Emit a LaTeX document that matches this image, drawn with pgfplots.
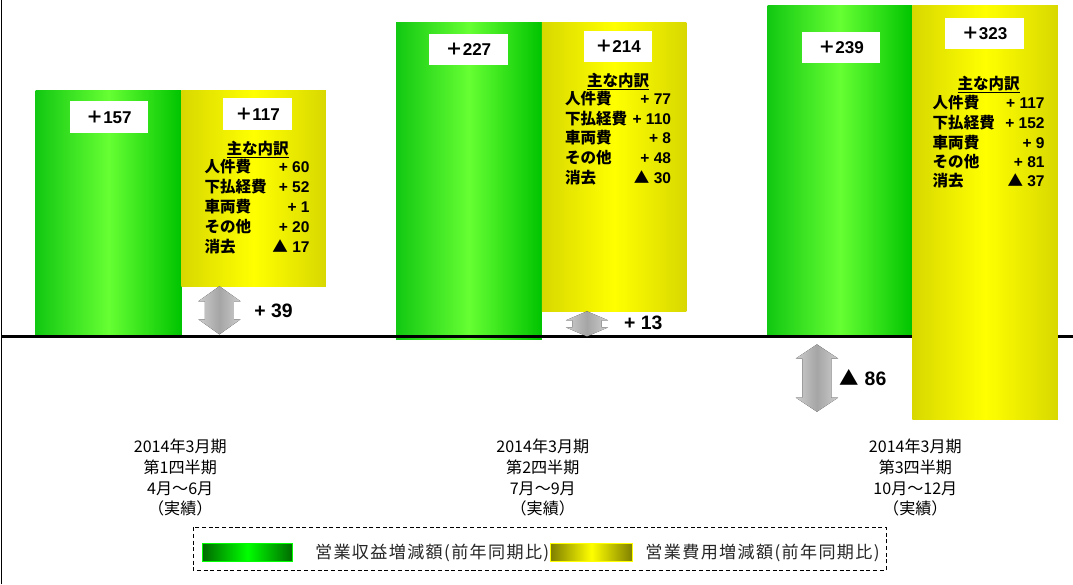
\documentclass[border=0pt]{standalone}
\usepackage{fontspec}
\usepackage{pgfplots}
\pgfplotsset{compat=1.18}
\setmainfont{Liberation Sans}
\newfontfamily\jp{Noto Sans CJK JP}
\newfontfamily\jpleg[LetterSpace=8]{Noto Sans CJK JP}

\definecolor{gL}{RGB}{18,200,18}
\definecolor{gM}{RGB}{102,255,51}
\definecolor{gR}{RGB}{0,196,0}
\definecolor{yE}{RGB}{216,216,0}
\definecolor{yM}{RGB}{255,255,0}
\definecolor{lgD}{RGB}{0,105,0}
\definecolor{lgM}{RGB}{0,255,0}
\definecolor{lyD}{RGB}{128,128,0}
\definecolor{arE}{RGB}{205,205,205}
\definecolor{arM}{RGB}{165,165,165}

\newcommand\brfont{\fontsize{11.6pt}{14pt}\selectfont\bfseries}
\newcommand\catfont{\fontsize{12pt}{14pt}\selectfont}
\newcommand\legfont{\fontsize{12.75pt}{14pt}\selectfont}
\newcommand\arfont{\fontsize{14.5pt}{16pt}\selectfont\bfseries}

% breakdown row: xleft xright ycenter label value
\newcommand\brow[5]{%
  \node[anchor=base west, inner sep=0pt, font=\brfont] at (#1,{#3+5.7}) {\jp #4};
  \node[anchor=base east, inner sep=0pt, font=\brfont] at (#2,{#3+5.7}) {#5};}
% double arrow: cx ytop ybottom headheight
\newcommand\darrow[4]{%
  \fill[left color=arE, right color=arE, middle color=arM]
    ({#1-14.5},{#2+#4}) -- ({#1-21},{#2+#4}) -- (#1,#2) -- ({#1+21},{#2+#4}) -- ({#1+14.5},{#2+#4})
    -- ({#1+14.5},{#3-#4}) -- ({#1+21},{#3-#4}) -- (#1,#3) -- ({#1-21},{#3-#4}) -- ({#1-14.5},{#3-#4}) -- cycle;}
% value box: cx cy width text
\newcommand\valbox[4]{%
  \node[fill=white, minimum width={#3*0.75pt}, minimum height=23.25pt, inner sep=0pt,
        font=\fontsize{12.75pt}{14pt}\selectfont\bfseries] at (#1,#2) {{\jp ＋}#4};}
% category label: cx lines
\newcommand\catlab[5]{%
  \node[anchor=base, inner sep=0pt, font=\catfont] at (#1,451) {\jp #2};
  \node[anchor=base, inner sep=0pt, font=\catfont] at (#1,471.5) {\jp #3};
  \node[anchor=base, inner sep=0pt, font=\catfont] at (#1,492) {\jp #4};
  \node[anchor=base, inner sep=0pt, font=\catfont] at (#1,512.5) {\jp #5};}

\begin{document}
\begin{tikzpicture}
\begin{axis}[scale only axis, width=804.75pt, height=436.5pt,
  xmin=0, xmax=1073, ymin=-179.7, ymax=244.5, hide axis]
% revenue increase (green bars), chart units
\addplot[draw=none, left color=gL, right color=gR, middle color=gM]
  coordinates {(40,0) (40,179) (185,179) (185,0)} -- cycle;
\addplot[draw=none, left color=gL, right color=gR, middle color=gM]
  coordinates {(399,-1.8) (399,228.5) (544,228.5) (544,-1.8)} -- cycle;
\addplot[draw=none, left color=gL, right color=gR, middle color=gM]
  coordinates {(769,0) (769,240.2) (913,240.2) (913,0)} -- cycle;
% baseline and left line
\draw[line width=2.25pt] (axis cs:6,0) -- (axis cs:1073,0);
\draw[line width=1.3pt] (axis cs:6,-179.7) -- (axis cs:6,244.5);
% expense increase (yellow floating bars)
\addplot[draw=none, left color=yE, right color=yE, middle color=yM]
  coordinates {(185,36.8) (185,179) (329,179) (329,36.8)} -- cycle;
\addplot[draw=none, left color=yE, right color=yE, middle color=yM]
  coordinates {(544,18.6) (544,228.5) (688,228.5) (688,18.6)} -- cycle;
\addplot[draw=none, left color=yE, right color=yE, middle color=yM]
  coordinates {(913,-60.1) (913,240.2) (1058,240.2) (1058,-60.1)} -- cycle;
\end{axis}

\begin{scope}[x=0.75pt, y=-0.75pt, shift={(0pt,436.5pt)}]
% value boxes
\valbox{113}{116.5}{78}{157}
\valbox{261}{113.5}{68}{117}
\valbox{471}{49.5}{78}{227}
\valbox{620}{46.5}{68}{214}
\valbox{842}{47.5}{78}{239}
\valbox{985}{33.5}{78}{323}
% breakdowns
\node[anchor=base, inner sep=0pt, font=\brfont] at (261,{148+5.7}) {\jp\underline{主な内訳}};
\brow{208}{313}{166}{人件費}{+ 60}
\brow{208}{313}{186}{下払経費}{+ 52}
\brow{208}{313}{206}{車両費}{+ 1}
\brow{208}{313}{226}{その他}{+ 20}
\brow{208}{313}{246}{消去}{{\jp ▲} 17}
\node[anchor=base, inner sep=0pt, font=\brfont] at (620,{80+5.7}) {\jp\underline{主な内訳}};
\brow{567}{673}{98}{人件費}{+ 77}
\brow{567}{673}{118}{下払経費}{+ 110}
\brow{567}{673}{137}{車両費}{+ 8}
\brow{567}{673}{157}{その他}{+ 48}
\brow{567}{673}{177}{消去}{{\jp ▲} 30}
\node[anchor=base, inner sep=0pt, font=\brfont] at (989,{83+5.7}) {\jp\underline{主な内訳}};
\brow{933}{1045}{102}{人件費}{+ 117}
\brow{933}{1045}{122}{下払経費}{+ 152}
\brow{933}{1045}{142}{車両費}{+ 9}
\brow{933}{1045}{161}{その他}{+ 81}
\brow{933}{1045}{180}{消去}{{\jp ▲} 37}
% difference arrows
\darrow{223}{285}{333}{15}
\darrow{589}{310}{335}{9}
\darrow{818}{343}{410}{14}
\node[anchor=base, inner sep=0pt, font=\arfont] at (277,316) {+ 39};
\node[anchor=base, inner sep=0pt, font=\arfont] at (645,328) {+ 13};
\node[anchor=base, inner sep=0pt, font=\arfont] at (864,384) {{\jp ▲} 86};
% category labels
\catlab{184}{2014年3月期}{第1四半期}{4月～6月}{（実績）}
\catlab{545}{2014年3月期}{第2四半期}{7月～9月}{（実績）}
\catlab{916}{2014年3月期}{第3四半期}{10月～12月}{（実績）}
% legend
\draw[line width=0.7pt, dash pattern=on 3pt off 2pt] (197,525) rectangle (887,568);
\draw[draw=lgM, line width=0.7pt, left color=lgD, right color=lgD, middle color=lgM] (206,541) rectangle (296,559);
\node[anchor=base west, inner sep=0pt, font=\legfont, text=black!85] at (318,556.5) {\jpleg 営業収益増減額(前年同期比)};
\draw[draw=yM, line width=0.7pt, left color=lyD, right color=lyD, middle color=yM] (553,541) rectangle (634,559);
\node[anchor=base west, inner sep=0pt, font=\legfont, text=black!85] at (647,556.5) {\jpleg 営業費用増減額(前年同期比)};
\end{scope}
\end{tikzpicture}
\end{document}
